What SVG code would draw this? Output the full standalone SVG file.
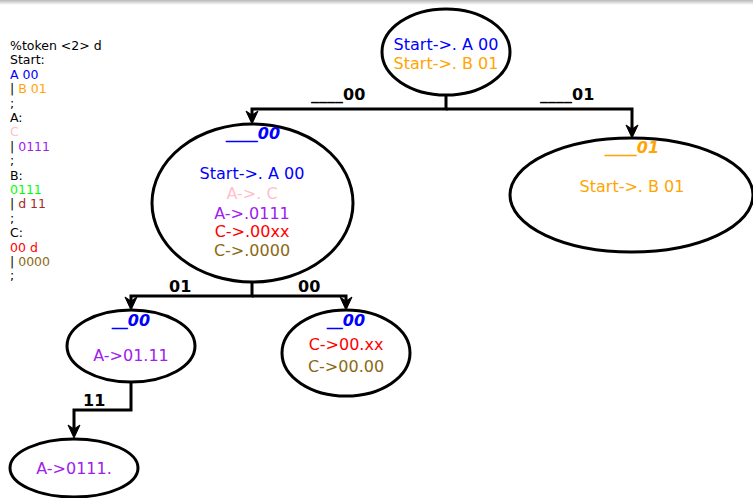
<svg xmlns="http://www.w3.org/2000/svg" width="753" height="498" viewBox="0 0 753 498">
  <defs>
    <linearGradient id="topShade" x1="0" y1="0" x2="0" y2="1">
      <stop offset="0" stop-color="#b8b8b8"/>
      <stop offset="1" stop-color="#ffffff"/>
    </linearGradient>
    <!-- downward arrowhead, tip at the origin -->
    <path id="ah" d="M0,0 L-6,-13 L0,-9 L6,-13 Z" fill="#000" stroke="#000" stroke-width="1" stroke-linejoin="miter"/>
    <style>
      text { font-family: "DejaVu Sans", "Liberation Sans", sans-serif; }
      .node { fill: #fff; stroke: #000; stroke-width: 3; }
      .edge { fill: none; stroke: #000; stroke-width: 3; }
      .lbl { font-size: 16px; font-weight: bold; fill: #000; }
      .ttl { font-size: 16px; font-weight: bold; font-style: italic; text-anchor: middle; }
      .item { font-size: 16px; text-anchor: middle; }
      .gram { font-size: 12.5px; }
      .blue { fill: #0000ff; }
      .orange { fill: #ffa500; }
      .pink { fill: #ffc0cb; }
      .purple { fill: #a020f0; }
      .red { fill: #ff0000; }
      .brown { fill: #8b6914; }
      .green { fill: #00ff00; }
      .maroon { fill: #a52a2a; }
      .black { fill: #000; }
    </style>
  </defs>

  <rect x="0" y="0" width="753" height="498" fill="#fff"/>
  <rect x="0" y="0" width="753" height="5" fill="url(#topShade)"/>

  <!-- grammar listing -->
  <g id="grammar" class="gram">
    <text x="10" y="50" class="black">%token &lt;2&gt; d</text>
    <text x="10" y="64.4" class="black">Start:</text>
    <text x="10" y="78.8" class="blue">A 00</text>
    <text x="10" y="93.2"><tspan class="black">| </tspan><tspan class="orange">B 01</tspan></text>
    <text x="10" y="107.6" class="black">;</text>
    <text x="10" y="122" class="black">A:</text>
    <text x="10" y="136.4" class="pink">C</text>
    <text x="10" y="150.8"><tspan class="black">| </tspan><tspan class="purple">0111</tspan></text>
    <text x="10" y="165.2" class="black">;</text>
    <text x="10" y="179.6" class="black">B:</text>
    <text x="10" y="194" class="green">0111</text>
    <text x="10" y="208.4"><tspan class="black">| </tspan><tspan class="maroon">d 11</tspan></text>
    <text x="10" y="222.8" class="black">;</text>
    <text x="10" y="237.2" class="black">C:</text>
    <text x="10" y="251.6" class="red">00 d</text>
    <text x="10" y="266"><tspan class="black">| </tspan><tspan class="brown">0000</tspan></text>
    <text x="10" y="280.4" class="black">;</text>
  </g>

  <!-- connectors -->
  <g id="connectors">
    <path class="edge" d="M446,95 V109 H252 V116"/>
    <path class="edge" d="M446,109 H632 V130"/>
    <path class="edge" d="M252,282 V296 H131 V302"/>
    <path class="edge" d="M252,296 H346 V302"/>
    <path class="edge" d="M131,382 V410 H74 V430"/>
    <use href="#ah" x="252" y="124"/>
    <use href="#ah" x="632" y="138"/>
    <use href="#ah" x="131" y="310"/>
    <use href="#ah" x="346" y="310"/>
    <use href="#ah" x="74" y="438"/>
    <text class="lbl" x="311" y="100">____00</text>
    <text class="lbl" x="540" y="100">____01</text>
    <text class="lbl" x="169" y="292">01</text>
    <text class="lbl" x="298" y="292">00</text>
    <text class="lbl" x="83" y="406">11</text>
  </g>

  <!-- states -->
  <g id="state-root">
    <ellipse class="node" cx="446" cy="52" rx="64" ry="43"/>
    <text class="item blue" x="446" y="50">Start-&gt;. A 00</text>
    <text class="item orange" x="446" y="69">Start-&gt;. B 01</text>
  </g>

  <g id="state-00">
    <ellipse class="node" cx="252.5" cy="203" rx="100.5" ry="79"/>
    <text class="ttl blue" x="253" y="139">____00</text>
    <text class="item blue" x="252" y="179">Start-&gt;. A 00</text>
    <text class="item pink" x="252" y="199">A-&gt;. C</text>
    <text class="item purple" x="252" y="219">A-&gt;.0111</text>
    <text class="item red" x="252" y="237">C-&gt;.00xx</text>
    <text class="item brown" x="252" y="256">C-&gt;.0000</text>
  </g>

  <g id="state-01">
    <ellipse class="node" cx="631.5" cy="195" rx="121.5" ry="57"/>
    <text class="ttl orange" x="632" y="153">____01</text>
    <text class="item orange" x="632" y="192">Start-&gt;. B 01</text>
  </g>

  <g id="state-0001">
    <ellipse class="node" cx="131" cy="346" rx="64" ry="36"/>
    <text class="ttl blue" x="131" y="326">__00</text>
    <text class="item purple" x="131" y="361">A-&gt;01.11</text>
  </g>

  <g id="state-0000">
    <ellipse class="node" cx="346" cy="353" rx="64" ry="43"/>
    <text class="ttl blue" x="346" y="326">__00</text>
    <text class="item red" x="346" y="350">C-&gt;00.xx</text>
    <text class="item brown" x="346" y="372">C-&gt;00.00</text>
  </g>

  <g id="state-000111">
    <ellipse class="node" cx="74" cy="468" rx="64" ry="29"/>
    <text class="item purple" x="74" y="474">A-&gt;0111.</text>
  </g>
</svg>
